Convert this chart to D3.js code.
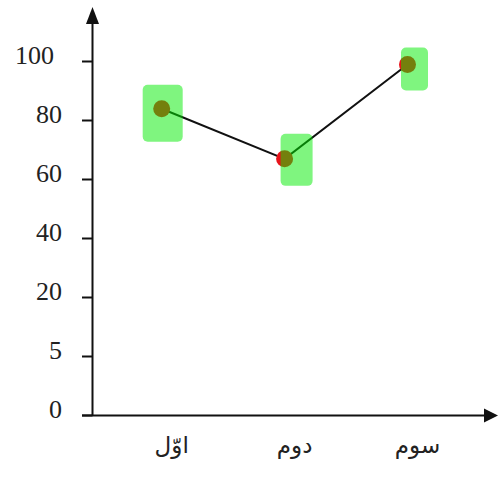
<!DOCTYPE html>
<html><head><meta charset="utf-8">
<script src="https://cdn.jsdelivr.net/npm/d3@7/dist/d3.min.js"></script>
<style>html,body{margin:0;padding:0;background:#fff;overflow:hidden}</style>
</head><body>
<svg id="c" width="498" height="479"></svg>
<script>
const categories = ["اوّل", "دوم", "سوم"];
const values = [84, 67, 99];
const yTicks = [0, 5, 20, 40, 60, 80, 100];
// highlight box extents around each point (dx0, dy0, dx1, dy1), pixel styling
const highlightBoxes = [[-19,-24,21,33],[-4,-25,28,27],[-6.5,-17,20.5,26]];

const svg = d3.select("#c");
const axisX = 92.5, axisY = 415.5;
const y = d3.scaleLinear().domain(yTicks)
  .range(yTicks.map((d,i)=> 415.5 - i*59));
const x = d3.scalePoint().domain(categories).range([161.7, 407.5]);

// y axis
svg.append("line").attr("x1",axisX).attr("x2",axisX).attr("y1",axisY).attr("y2",22)
  .attr("stroke","#111").attr("stroke-width",2);
svg.append("path").attr("d",`M${axisX},7 L${axisX-6.5},24 L${axisX+6.5},24 Z`).attr("fill","#111");
// x axis
svg.append("line").attr("x1",82).attr("x2",488).attr("y1",axisY).attr("y2",axisY)
  .attr("stroke","#111").attr("stroke-width",2);
svg.append("path").attr("d",`M498,${axisY} L484,${axisY-7} L484,${axisY+7} Z`).attr("fill","#111");

// y ticks and labels
const yt = svg.append("g");
yTicks.forEach(t=>{
  yt.append("line").attr("x1",82).attr("x2",axisX).attr("y1",y(t)).attr("y2",y(t))
    .attr("stroke","#111").attr("stroke-width",2);
  yt.append("text").attr("x", t===100 ? 54 : 62).attr("y", y(t)-7)
    .attr("dy","0.35em").attr("text-anchor","end")
    .attr("font-family","'Liberation Serif', serif").attr("font-size",26)
    .attr("fill","#222").text(t);
});

// x labels
categories.forEach(c=>{
  svg.append("text").attr("x", x(c)+10).attr("y", 453)
    .attr("text-anchor","middle").attr("direction","rtl")
    .attr("font-family","'DejaVu Sans', sans-serif").attr("font-size",23)
    .attr("fill","#222").text(c);
});

const pts = categories.map((c,i)=>[x(c), y(values[i])]);
svg.append("path").attr("d", d3.line()(pts)).attr("fill","none")
  .attr("stroke","#111").attr("stroke-width",2);
svg.selectAll("circle.p").data(pts).join("circle")
  .attr("cx",d=>d[0]).attr("cy",d=>d[1]).attr("r",8.5).attr("fill","#e8141b");
svg.selectAll("rect.h").data(pts).join("rect")
  .attr("x",(d,i)=>d[0]+highlightBoxes[i][0]).attr("y",(d,i)=>d[1]+highlightBoxes[i][1])
  .attr("width",(d,i)=>highlightBoxes[i][2]-highlightBoxes[i][0])
  .attr("height",(d,i)=>highlightBoxes[i][3]-highlightBoxes[i][1])
  .attr("rx",5).attr("fill","rgba(0,235,0,0.5)");
</script>
</body></html>
